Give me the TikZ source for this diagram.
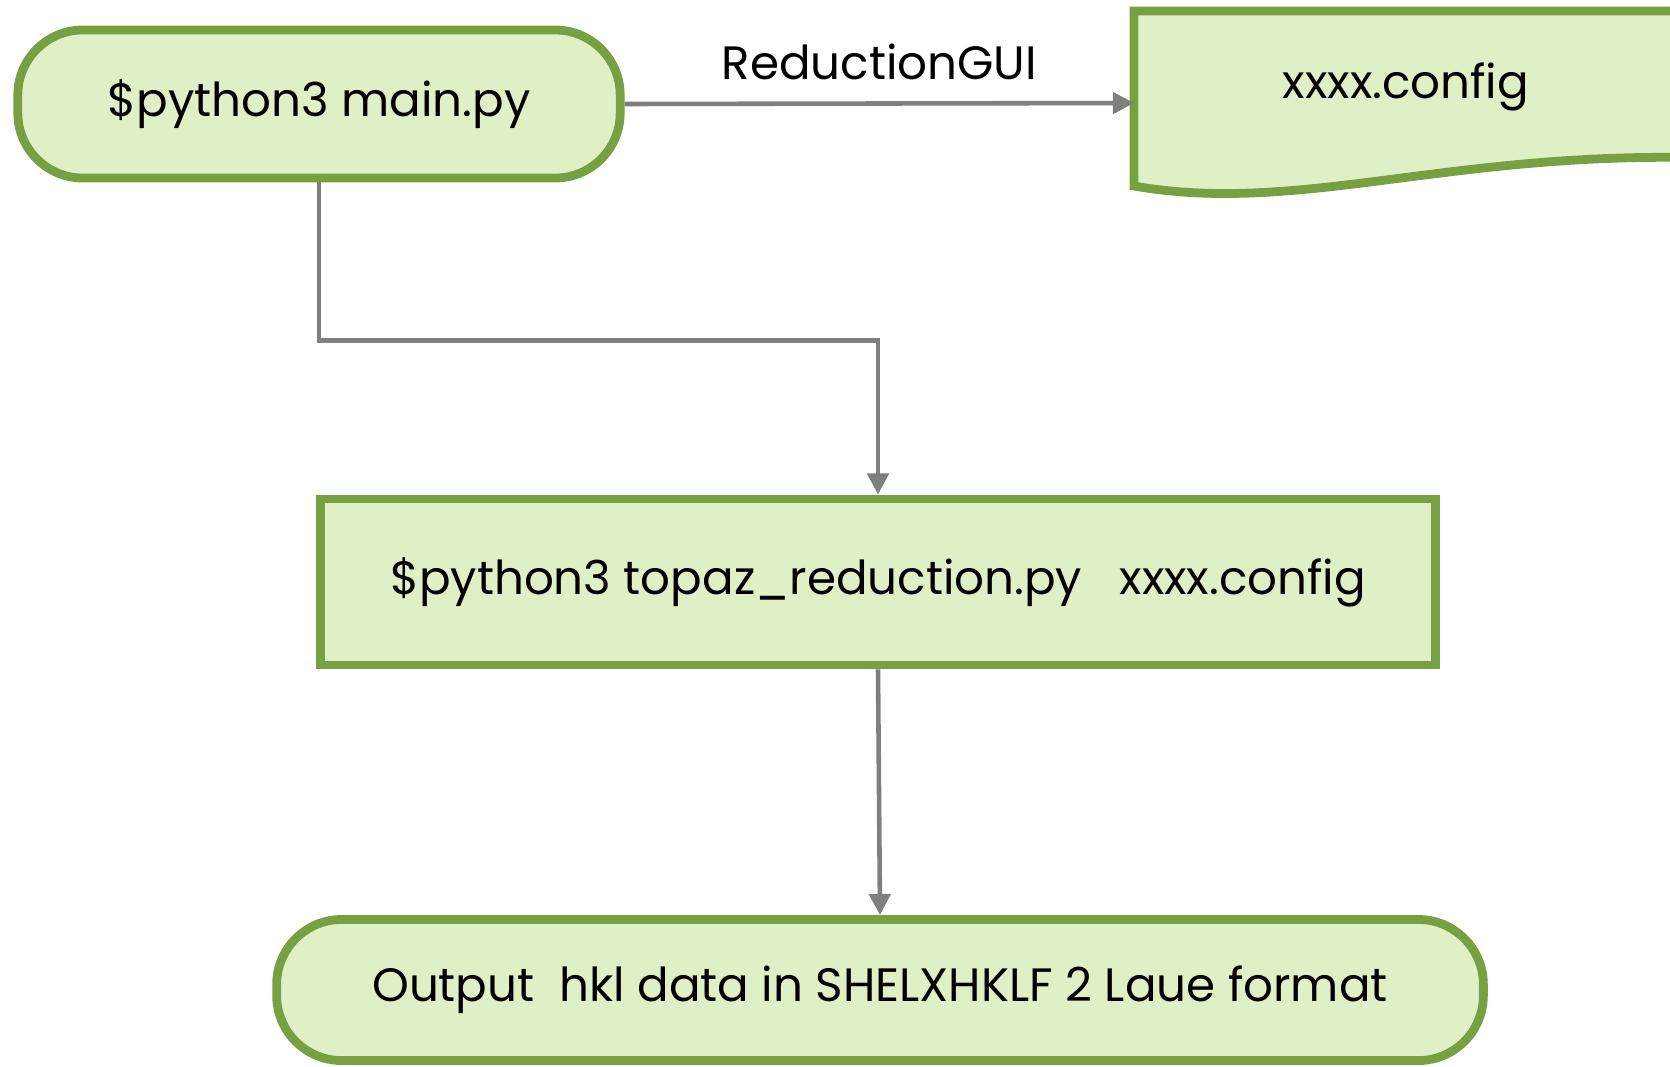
\documentclass[tikz,border=0pt]{standalone}
\usepackage{fontspec}
\setmainfont{Poppins}
\usetikzlibrary{positioning, calc, arrows.meta}
\definecolor{verdechiaro}{HTML}{DFF0C7}
\definecolor{verdebordo}{HTML}{76A042}
\definecolor{grigiofreccia}{HTML}{7F7F7F}

\begin{document}
\begin{tikzpicture}
        [x=0.01cm, y=-0.01cm,
        testo/.style={font=\fontsize{13.3}{16}\selectfont},
        blocco/.style={testo, draw=verdebordo, fill=verdechiaro, line width=2.5pt, inner sep=0pt},
        arrotondato/.style={blocco, rounded corners=0.65cm},
        freccia/.style={draw=grigiofreccia, line width=1.3pt, -{Triangle[length=6pt, width=6pt]}}]
        %area
            \useasboundingbox (0,0) rectangle (1670,1066);
        %disegno documento config
            \draw[draw=verdebordo, fill=verdechiaro, line width=2.5pt]
                (1134,11) -- (1710,11) -- (1710,158)
                .. controls (1450,150) and (1300,215) .. (1134,186) -- cycle;
            \coordinate (cfgin) at (1134,103);
            \node (cfg) at (1406,87) [testo]{xxxx.config};
        %disegno blocchi
            \node (main) at (319,104) [arrotondato, minimum width=6.02cm, minimum height=1.48cm]{\$python3 main.py};
            \node (red) at (878,582) [blocco, minimum width=11.14cm, minimum height=1.66cm]{\$python3 topaz\_reduction.py \ \ xxxx.config};
            \node (out) at (880,990) [arrotondato, minimum width=12.06cm, minimum height=1.41cm]{Output \ hkl data in SHELXHKLF 2 Laue format};
        %collegamenti
            \draw[freccia] (main.east) -- (cfgin)
                node[midway, above=0.1cm, testo, text=black] (gui){ReductionGUI};
            \draw[freccia] (main.south) -- ++(0,158) -| (red.north);
            \draw[freccia] (red.south) -- (out.north);
    \end{tikzpicture}
\end{document}
